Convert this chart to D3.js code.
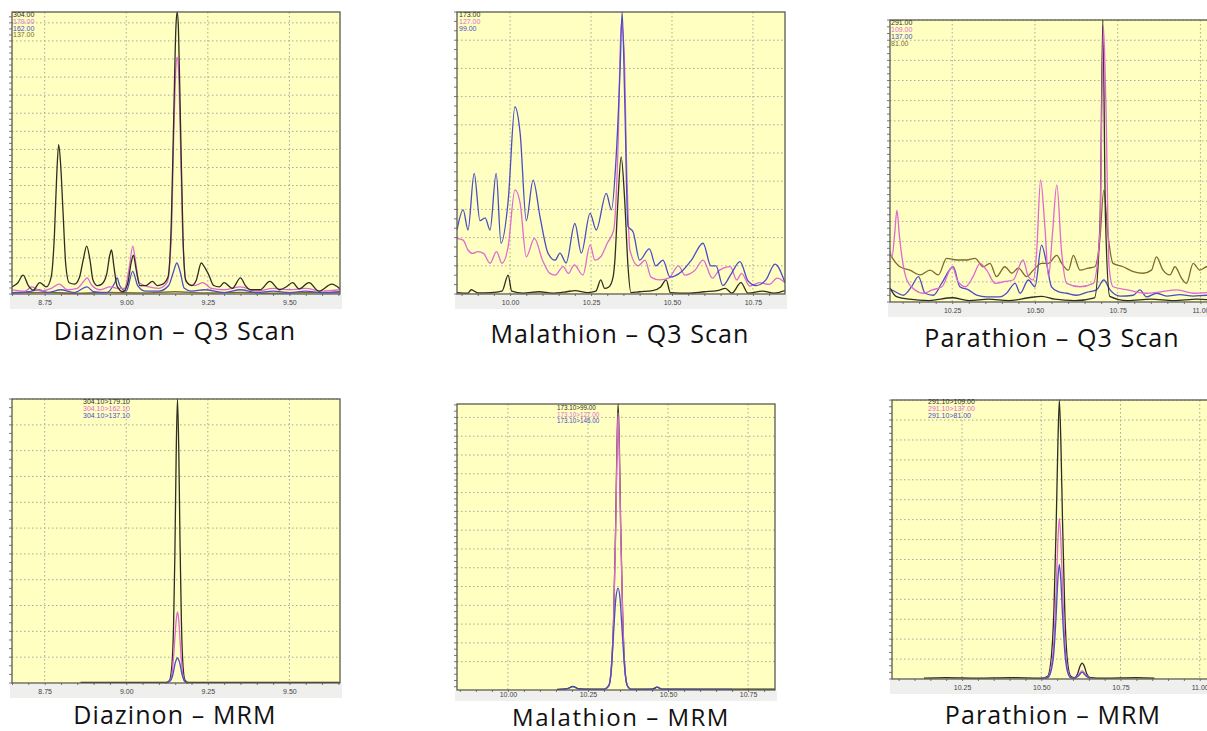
<!DOCTYPE html>
<html><head><meta charset="utf-8">
<script src="https://cdn.jsdelivr.net/npm/d3@7"></script>
<style>body{margin:0;background:#fff;}svg{display:block;}</style>
</head><body>
<svg id="c" width="1207" height="731"></svg>
<script>
// ---------------- DATA ----------------
const diazTicks = [8.75, 9.00, 9.25, 9.50];
const malTicks  = [10.00, 10.25, 10.50, 10.75];
const parTicks  = [10.25, 10.50, 10.75, 11.00];

// Diazinon Q3 scan  [retention time, relative intensity %]
const diazQ3_304 = [[8.650,2.5],[8.668,4],[8.684,6.7],[8.700,3],[8.715,1.4],[8.735,4],[8.755,2.5],[8.770,6],[8.780,21],[8.787,42],[8.793,53],[8.799,46],[8.806,30],[8.815,10],[8.825,4],[8.842,3.5],[8.857,6],[8.868,12],[8.879,17],[8.889,12],[8.898,5],[8.912,3],[8.925,3.5],[8.940,7],[8.950,14],[8.955,15.6],[8.962,10],[8.972,2.8],[8.990,0.8],[9.005,4],[9.015,11],[9.022,13.8],[9.030,9],[9.042,3],[9.060,3],[9.080,4.5],[9.095,3],[9.112,3.5],[9.128,6],[9.138,25],[9.146,65],[9.152,94],[9.156,100],[9.160,94],[9.166,62],[9.174,20],[9.182,5],[9.200,3],[9.215,5],[9.230,11],[9.240,9.5],[9.252,7],[9.268,3],[9.285,2.5],[9.300,4],[9.325,2],[9.350,5.7],[9.365,3],[9.380,1.5],[9.410,1.5],[9.440,4.5],[9.470,1.5],[9.490,2.5],[9.510,4],[9.530,1.8],[9.560,4],[9.590,1],[9.630,3.5],[9.655,1.8]];
const diazQ3_179 = [[8.650,1.5],[8.690,1],[8.710,2.5],[8.740,1],[8.770,2],[8.795,3.5],[8.820,1.5],[8.850,2],[8.870,4.5],[8.880,5.7],[8.895,3],[8.920,1.5],[8.950,2.5],[8.975,2],[8.995,2],[9.010,10],[9.020,17],[9.028,12],[9.040,4],[9.070,2.5],[9.100,2],[9.125,4],[9.138,20],[9.146,58],[9.152,80],[9.156,84],[9.160,80],[9.166,55],[9.174,18],[9.185,4],[9.210,3],[9.235,4],[9.260,2],[9.300,1.5],[9.350,2.5],[9.400,1],[9.450,2],[9.500,1.5],[9.550,2],[9.600,1],[9.655,1.5]];
const diazQ3_162 = [[8.650,0.5],[8.700,0.8],[8.730,1.5],[8.760,0.5],[8.800,1.5],[8.840,0.5],[8.880,2.5],[8.900,0.8],[8.940,0.5],[8.965,4],[8.972,5.7],[8.980,3],[9.000,1],[9.020,8],[9.035,3],[9.060,1],[9.100,1],[9.130,3],[9.145,8],[9.155,11],[9.165,8],[9.178,2],[9.200,1],[9.240,1.5],[9.300,0.5],[9.350,1.5],[9.400,0.5],[9.450,1],[9.500,0.5],[9.550,1],[9.600,0.5],[9.655,0.8]];
const diazQ3_137 = [[8.650,0.4],[8.750,0.6],[8.850,0.3],[8.950,0.6],[9.050,0.4],[9.150,0.8],[9.250,0.4],[9.350,0.6],[9.450,0.3],[9.550,0.5],[9.655,0.4]];

// Malathion Q3 scan
const malQ3_173 = [[9.836,0.5],[9.870,0.3],[9.880,1.5],[9.900,0.4],[9.940,0.5],[9.975,1],[9.994,6.7],[10.005,1],[10.040,0.3],[10.090,0.8],[10.130,0.3],[10.175,0.8],[10.200,1.2],[10.240,0.5],[10.265,1],[10.280,5],[10.292,2],[10.305,2.5],[10.318,6],[10.323,11],[10.333,33],[10.343,48.6],[10.354,33],[10.364,10],[10.373,0.5],[10.400,0.8],[10.440,1.2],[10.465,2.5],[10.482,5],[10.495,0.5],[10.550,0.3],[10.600,0.8],[10.640,1.2],[10.665,2],[10.685,0.3],[10.713,4],[10.735,0.3],[10.780,1],[10.815,0.3],[10.849,1.2]];
const malQ3_127 = [[9.836,19.7],[9.855,19.1],[9.870,15.6],[9.884,14.4],[9.900,15],[9.918,14.4],[9.938,10.9],[9.958,15],[9.975,10.9],[9.994,16.8],[10.015,36.9],[10.031,32.2],[10.050,13.2],[10.075,19.7],[10.100,12],[10.123,7.3],[10.139,6.7],[10.164,9.7],[10.180,7.3],[10.198,10.3],[10.225,6.7],[10.247,17.4],[10.262,12],[10.280,13.2],[10.300,18],[10.320,22.7],[10.333,51],[10.343,96],[10.352,86.5],[10.360,45],[10.370,15.6],[10.395,10],[10.417,12],[10.435,6],[10.462,5],[10.490,5.6],[10.520,10],[10.540,6.7],[10.570,8.3],[10.596,12],[10.625,5.6],[10.645,8.3],[10.680,9.7],[10.700,5],[10.715,7.3],[10.740,2.8],[10.770,4],[10.800,3.4],[10.825,5.6],[10.849,4]];
const malQ3_99 = [[9.836,22.7],[9.855,29.8],[9.870,22.7],[9.889,42.8],[9.907,26],[9.923,27],[9.938,22.7],[9.957,42.8],[9.972,18],[9.994,33],[10.015,66.4],[10.031,57],[10.050,26],[10.071,40.4],[10.093,27],[10.117,14.5],[10.139,12],[10.154,14.5],[10.173,11],[10.200,25],[10.220,14.5],[10.247,28.6],[10.266,22.7],[10.297,35.7],[10.313,29.8],[10.327,47.5],[10.340,80.5],[10.346,100],[10.354,69],[10.364,24],[10.380,22],[10.400,12],[10.430,16],[10.450,10],[10.472,12],[10.494,6],[10.530,8],[10.560,12],[10.596,18],[10.620,10],[10.636,10],[10.657,3],[10.682,7],[10.710,11.5],[10.735,4.6],[10.760,3],[10.790,5],[10.818,10.6],[10.849,4]];

// Parathion Q3 scan
const parQ3_291 = [[10.062,5],[10.080,2],[10.120,1],[10.180,0.5],[10.250,1.5],[10.300,0.5],[10.360,1],[10.420,0.5],[10.480,1.5],[10.520,2],[10.560,1],[10.620,0.5],[10.680,1.5],[10.697,30],[10.705,100],[10.713,30],[10.726,2],[10.780,0.5],[10.850,1],[10.920,0.5],[10.990,1],[11.050,0.5]];
const parQ3_109 = [[10.062,18],[10.068,16],[10.076,24],[10.083,32.6],[10.090,24],[10.098,16],[10.113,7.8],[10.137,4.3],[10.162,3.1],[10.190,4.3],[10.219,5.4],[10.250,12.5],[10.267,7.3],[10.290,5.4],[10.313,9],[10.334,13.7],[10.354,11.3],[10.380,6.6],[10.410,7.3],[10.434,7.8],[10.464,14.9],[10.480,9],[10.495,7.8],[10.505,17.4],[10.517,43.3],[10.530,26.6],[10.541,9],[10.553,24.4],[10.566,41.5],[10.580,18.4],[10.596,6.6],[10.636,5.4],[10.676,6.6],[10.696,24.4],[10.707,97.6],[10.714,71.6],[10.724,12.5],[10.736,5.4],[10.780,4.3],[10.830,3.1],[10.880,3.6],[10.930,4.3],[10.980,3.1],[11.050,3.6]];
const parQ3_137 = [[10.062,4.5],[10.067,4.3],[10.102,2.4],[10.127,5.4],[10.148,9],[10.168,3.1],[10.193,2.4],[10.218,6.6],[10.253,12.5],[10.273,5.4],[10.299,4.3],[10.324,2.4],[10.354,1.8],[10.394,1.8],[10.414,3.1],[10.440,6.6],[10.455,3.1],[10.480,7.8],[10.500,5.4],[10.520,20.2],[10.535,13.7],[10.550,5.4],[10.570,3.7],[10.596,3.1],[10.626,2.4],[10.656,3.4],[10.686,4.3],[10.708,7.8],[10.727,4.3],[10.757,2.1],[10.797,2.4],[10.817,4.3],[10.837,1.8],[10.867,3.1],[10.898,2.1],[10.938,2.6],[10.978,2.1],[11.019,2.4],[11.050,2.2]];
const parQ3_81 = [[10.062,17],[10.067,16],[10.092,12.5],[10.122,11.3],[10.153,9.6],[10.183,11.3],[10.208,9.6],[10.233,15.5],[10.264,14.9],[10.294,14.9],[10.319,15.5],[10.344,12.5],[10.364,13.7],[10.384,9],[10.409,12.5],[10.430,10.2],[10.450,12],[10.475,9],[10.495,11.3],[10.520,13.7],[10.540,13.7],[10.566,16.5],[10.581,13.7],[10.601,11.3],[10.616,16.5],[10.636,11.3],[10.661,12],[10.681,12.5],[10.696,22],[10.708,39.7],[10.720,24.4],[10.736,13.7],[10.766,12.5],[10.797,10.8],[10.827,10.2],[10.852,11.3],[10.867,16],[10.887,11.3],[10.908,9.6],[10.923,12.5],[10.943,8.4],[10.958,6.6],[10.978,13.7],[10.998,11.3],[11.019,12.5],[11.050,11]];

// Diazinon MRM
const diazMRM_179 = [[8.860,0.2],[9.000,0.2],[9.120,0.2],[9.132,0.8],[9.139,5],[9.145,20],[9.149,45],[9.153,80],[9.157,100],[9.161,82],[9.165,48],[9.169,22],[9.174,6],[9.180,1],[9.190,0.2],[9.655,0.2]];
const diazMRM_162 = [[9.120,0],[9.135,1],[9.142,5],[9.148,14],[9.153,22],[9.157,25],[9.161,22],[9.166,13],[9.172,4],[9.180,0.5],[9.190,0]];
const diazMRM_137 = [[9.120,0],[9.135,0.8],[9.143,3],[9.150,7],[9.157,8.8],[9.164,7],[9.171,3],[9.180,0.5],[9.190,0]];

// Malathion MRM
const malMRM_99  = [[10.153,0.2],[10.185,0.5],[10.203,1.3],[10.220,0.5],[10.250,0.3],[10.300,0.3],[10.315,1.5],[10.323,8],[10.330,25],[10.336,55],[10.340,82],[10.344,100],[10.348,85],[10.352,58],[10.358,28],[10.365,8],[10.373,1.5],[10.385,0.3],[10.450,0.3],[10.466,1],[10.480,0.3],[10.834,0.3]];
const malMRM_127 = [[10.300,0.2],[10.315,1.4],[10.323,7.5],[10.330,24],[10.336,53],[10.340,79],[10.344,97],[10.348,82],[10.352,56],[10.358,27],[10.365,7.5],[10.373,1.4],[10.385,0.2]];
const malMRM_145 = [[10.160,0.2],[10.190,0.6],[10.203,1.2],[10.220,0.4],[10.300,0.2],[10.315,1.5],[10.323,7],[10.330,20],[10.337,32],[10.344,35.6],[10.350,32],[10.357,20],[10.365,7],[10.373,1.5],[10.385,0.2],[10.455,0.3],[10.466,1],[10.480,0.3],[10.700,0.2]];

// Parathion MRM
const parMRM_109 = [[10.130,0.3],[10.200,0.5],[10.300,0.3],[10.400,0.5],[10.500,0.3],[10.520,1],[10.530,6],[10.540,25],[10.547,55],[10.552,82],[10.557,100],[10.562,84],[10.567,57],[10.574,25],[10.583,6],[10.593,1],[10.605,0.5],[10.615,2],[10.622,4.5],[10.629,5.7],[10.636,4.5],[10.643,2],[10.655,0.5],[10.700,0.3],[10.800,0.5],[10.857,0.3]];
const parMRM_137 = [[10.500,0.2],[10.520,0.6],[10.530,3.5],[10.540,14],[10.547,32],[10.552,48],[10.557,57.6],[10.562,49],[10.567,33],[10.574,14],[10.583,3.5],[10.593,0.6],[10.605,0.3],[10.618,1.5],[10.629,3],[10.640,1.5],[10.655,0.2]];
const parMRM_81  = [[10.500,0.2],[10.520,0.5],[10.530,2.5],[10.540,10],[10.547,23],[10.552,35],[10.557,41],[10.562,35],[10.567,23],[10.574,10],[10.583,2.5],[10.593,0.5],[10.605,0.3],[10.618,1.2],[10.629,2.5],[10.640,1.2],[10.655,0.2]];

// ---------------- STYLE ----------------
const DARK="#2e2e22", PINK="#e069d2", BLUE="#4c4cc4", OLIVE="#7d6a2c";

const panels = [
  {title:"Diazinon – Q3 Scan", box:[12,12,340,294], dom:[8.65,9.655], ticks:diazTicks, pad:6,
   grid:{step:6.41,off:0}, tx:175, ty:340, fs:25, leg:[13,17,6.8,7],
   legend:[["304.00",DARK],["179.00",PINK],["162.00",BLUE],["137.00",OLIVE]],
   series:[[diazQ3_137,OLIVE],[diazQ3_162,BLUE],[diazQ3_179,PINK],[diazQ3_304,DARK]]},
  {title:"Malathion – Q3 Scan", box:[457,12,785,294], dom:[9.836,10.849], ticks:malTicks, pad:6,
   grid:{step:10,off:0}, tx:620, ty:343, fs:25, leg:[459,17,6.8,7],
   legend:[["173.00",DARK],["127.00",PINK],["99.00",BLUE]],
   series:[[malQ3_173,DARK],[malQ3_127,PINK],[malQ3_99,BLUE]]},
  {title:"Parathion – Q3 Scan", box:[890,20,1217,302], dom:[10.062,11.05], ticks:parTicks, pad:6,
   grid:{step:7.14,off:0}, tx:1052, ty:347, fs:25, leg:[891,25,7,7],
   legend:[["291.00",DARK],["109.00",PINK],["137.00",BLUE],["81.00",OLIVE]],
   series:[[parQ3_137,BLUE],[parQ3_81,OLIVE],[parQ3_291,DARK],[parQ3_109,PINK]]},
  {title:"Diazinon – MRM", box:[12,399,340,683], dom:[8.65,9.655], ticks:diazTicks, pad:6,
   grid:{step:9.09,off:0}, tx:175, ty:724, fs:25, leg:[83,404,7,7],
   legend:[["304.10>179.10",DARK],["304.10>162.10",PINK],["304.10>137.10",BLUE]],
   series:[[diazMRM_179,DARK],[diazMRM_162,PINK],[diazMRM_137,BLUE]]},
  {title:"Malathion – MRM", box:[457,404,775,690], dom:[9.841,10.834], ticks:malTicks, pad:2,
   grid:{step:6.57,off:9.9}, tx:621, ty:726, fs:24, leg:[557,410,6.6,6.3],
   legend:[["173.10>99.00",DARK],["173.10>127.00",PINK],["173.10>145.00",BLUE]],
   series:[[malMRM_99,DARK],[malMRM_127,PINK],[malMRM_145,BLUE]]},
  {title:"Parathion – MRM", box:[892,400,1214,679], dom:[10.029,11.045], ticks:parTicks, pad:6,
   grid:{step:7.14,off:0}, tx:1053, ty:724, fs:25, leg:[928,404,7,7],
   legend:[["291.10>109.00",DARK],["291.10>137.00",PINK],["291.10>81.00",BLUE]],
   series:[[parMRM_109,DARK],[parMRM_137,PINK],[parMRM_81,BLUE]]}
];

// ---------------- DRAW ----------------
const svg = d3.select("#c");
svg.append("rect").attr("width",1207).attr("height",731).attr("fill","#fff");

panels.forEach((p,i)=>{
  const [L,T,R,B] = p.box;
  const x = d3.scaleLinear().domain(p.dom).range([L,R]);
  const y = d3.scaleLinear().domain([0,100]).range([B,T]);
  const g = svg.append("g");
  const cid = "clip"+i;
  g.append("clipPath").attr("id",cid).append("rect")
    .attr("x",L).attr("y",T-1).attr("width",R-L).attr("height",B-T+2);

  // tick label band
  g.append("rect").attr("x",L-2).attr("y",B+1).attr("width",R-L+4).attr("height",p.pad+8).attr("fill","#efefee");
  // plot background
  g.append("rect").attr("x",L).attr("y",T).attr("width",R-L).attr("height",B-T).attr("fill","#ffffc2");

  // grid
  const gv=[]; for(let v=p.grid.off + (p.grid.off?0:p.grid.step); v<100; v+=p.grid.step) gv.push(v);
  g.selectAll(".gh").data(gv).enter().append("line")
    .attr("x1",L).attr("x2",R).attr("y1",d=>y(d)).attr("y2",d=>y(d))
    .attr("stroke","#a9a99a").attr("stroke-width",1).attr("stroke-dasharray","1.5,2.5");
  g.selectAll(".gv").data(p.ticks).enter().append("line")
    .attr("x1",d=>x(d)).attr("x2",d=>x(d)).attr("y1",T).attr("y2",B)
    .attr("stroke","#a9a99a").attr("stroke-width",1).attr("stroke-dasharray","1.5,2.5");

  // left minor ticks
  const mstep = p.grid.step/3; const mt=[];
  for(let v=(p.grid.off%mstep); v<100; v+=mstep) mt.push(v);
  g.selectAll(".mt").data(mt).enter().append("line")
    .attr("x1",L-3).attr("x2",L).attr("y1",d=>y(d)).attr("y2",d=>y(d))
    .attr("stroke","#555").attr("stroke-width",0.8);

  // bottom axis with minor ticks
  const xa = d3.axisBottom(x).tickValues(d3.range(Math.ceil(p.dom[0]/0.05)*0.05, p.dom[1], 0.05))
    .tickSize(2).tickFormat("");
  const ax = g.append("g").attr("transform",`translate(0,${B})`).call(xa);
  ax.select(".domain").remove();
  ax.selectAll("line").attr("stroke","#555").attr("stroke-width",0.8);
  const xl = d3.axisBottom(x).tickValues(p.ticks).tickSize(0).tickPadding(p.pad).tickFormat(d3.format(".2f"));
  const axl = g.append("g").attr("transform",`translate(0,${B})`).call(xl);
  axl.select(".domain").remove();
  axl.selectAll("text").attr("font-family","Liberation Sans, Arial, sans-serif").attr("font-size",7).attr("fill","#444");

  // traces
  const line = d3.line().x(d=>x(d[0])).y(d=>y(d[1])).curve(d3.curveMonotoneX);
  const tg = g.append("g").attr("clip-path",`url(#${cid})`);
  p.series.forEach(([data,color])=>{
    tg.append("path").datum(data).attr("d",line).attr("fill","none")
      .attr("stroke",color).attr("stroke-width",1.3).attr("stroke-linejoin","round");
  });

  // frame
  g.append("rect").attr("x",L).attr("y",T).attr("width",R-L).attr("height",B-T)
    .attr("fill","none").attr("stroke","#5a5a4e").attr("stroke-width",1.3);

  // legend
  const [lx,ly,ls,lf] = p.leg;
  g.selectAll(".lg").data(p.legend).enter().append("text")
    .attr("x",lx).attr("y",(d,k)=>ly+k*ls)
    .attr("font-family","Liberation Sans, Arial, sans-serif").attr("font-size",lf)
    .attr("fill",d=>d[1]).text(d=>d[0]);

  // title
  svg.append("text").attr("x",p.tx).attr("y",p.ty).attr("text-anchor","middle")
    .attr("font-family","Open Sans, sans-serif").attr("font-size",p.fs).attr("letter-spacing",p.fs<25?1.5:1.1)
    .attr("fill","#111").text(p.title);
});
</script>
</body></html>
